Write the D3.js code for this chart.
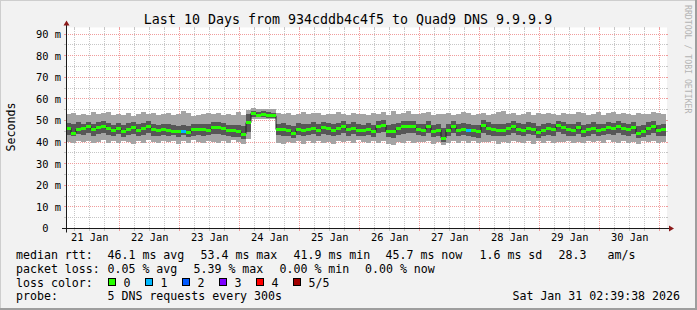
<!DOCTYPE html>
<html>
<head>
<meta charset="utf-8">
<script src="https://cdn.jsdelivr.net/npm/d3@7"></script>
<style>
  html, body { margin: 0; padding: 0; background: #fff; }
  svg { display: block; }
  text { font-family: "DejaVu Sans Mono", monospace; }
</style>
</head>
<body>
<script>
// chart texts
const title = "Last 10 Days from 934cddb4c4f5 to Quad9 DNS 9.9.9.9"
const yAxisTitle = "Seconds"
const watermark = "RRDTOOL / TOBI OETIKER"
const stamp = "Sat Jan 31 02:39:38 2026"

// time span: 10 days, one value every 2 hours
const startTime = new Date(Date.UTC(2026, 0, 21, 2, 39, 38))
const endTime = new Date(Date.UTC(2026, 0, 31, 2, 39, 38))
const stepHours = 2

const yTicks = [0, 10, 20, 30, 40, 50, 60, 70, 80, 90]
const dayLabels = ["21 Jan", "22 Jan", "23 Jan", "24 Jan", "25 Jan", "26 Jan", "27 Jan", "28 Jan", "29 Jan", "30 Jan"]

// smoke: 5 sorted DNS replies per step (ms)
const smokeMin = [
  40.1, 39.6, 40.4, 39.9, 40.7, 39.4, 40.2, 40.8, 39.7, 40.3,
  39.5, 40.6, 40.0, 39.3, 40.5, 39.8, 40.9, 40.1, 39.6, 40.4,
  39.9, 40.7, 39.2, 40.3, 39.7, 40.8, 40.2, 39.5, 40.6, 40.0,
  39.8, 40.4, 39.4, 40.9, 39.9, 38.9, 41.5, 50.6, 50.9, 50.7,
  50.8, 50.5, 39.6, 38.9, 40.2, 39.4, 40.7, 39.1, 40.3, 39.8,
  40.5, 39.7, 40.1, 39.3, 40.6, 39.9, 40.4, 39.5, 40.8, 40.0,
  39.6, 40.3, 39.8, 40.7, 39.2, 38.8, 40.1, 39.7, 40.5, 39.4,
  40.2, 39.9, 40.6, 39.3, 40.0, 38.7, 39.5, 40.4, 39.8, 40.3,
  39.7, 40.5, 39.4, 40.1, 39.9, 40.6, 39.3, 40.2, 39.8, 40.4,
  40.0, 39.6, 40.5, 39.2, 40.3, 39.8, 40.7, 39.5, 40.1, 39.9,
  40.4, 39.7, 40.2, 39.4, 40.6, 39.9, 40.3, 39.6, 40.8, 40.0,
  39.5, 40.4, 39.8, 40.2, 39.3, 40.6, 39.9, 40.5, 39.7, 40.2
]
const smokeLow = [
  43.4, 42.6, 43.8, 43.1, 44.0, 42.9, 43.6, 44.2, 43.3, 42.8,
  43.7, 42.5, 43.5, 43.9, 42.7, 43.4, 44.1, 43.0, 42.6, 43.2,
  42.9, 43.3, 42.4, 43.1, 42.2, 43.0, 43.4, 42.8, 43.2, 43.6,
  43.9, 43.1, 42.7, 42.5, 42.3, 41.5, 44.5, 51.4, 51.6, 51.5,
  51.3, 51.2, 43.2, 42.8, 42.9, 41.9, 43.2, 42.7, 43.3, 43.8,
  42.9, 43.6, 43.4, 42.7, 43.5, 44.2, 43.0, 43.7, 42.9, 42.6,
  43.1, 42.4, 44.0, 44.6, 42.3, 41.8, 43.5, 43.9, 44.2, 44.0,
  43.2, 42.8, 44.1, 42.3, 42.9, 40.2, 42.6, 44.0, 42.8, 43.1,
  42.9, 42.5, 42.1, 44.4, 43.5, 43.0, 42.7, 42.9, 43.3, 44.0,
  43.2, 42.6, 43.6, 43.1, 41.8, 42.7, 43.4, 42.9, 44.5, 43.8,
  43.0, 42.6, 43.9, 42.4, 42.9, 43.6, 42.7, 43.1, 43.8, 43.3,
  44.1, 43.4, 43.0, 43.7, 41.7, 42.3, 43.5, 44.2, 42.6, 42.9
]
const median = [
  46.4, 44.2, 46.0, 46.4, 47.2, 45.8, 46.9, 47.4, 46.2, 45.4,
  46.5, 45.1, 46.0, 46.7, 45.6, 46.3, 47.0, 45.9, 45.3, 45.8,
  45.2, 45.0, 44.9, 45.1, 44.3, 45.7, 45.7, 45.7, 45.6, 46.6,
  46.8, 46.3, 45.5, 45.2, 44.9, 43.7, 49.0, 53.4, 52.5, 52.9,
  52.4, 52.2, 45.8, 45.9, 45.4, 44.2, 45.9, 45.6, 45.8, 46.4,
  45.5, 46.6, 46.1, 45.4, 46.3, 47.2, 45.7, 46.5, 45.6, 45.4,
  45.9, 44.9, 47.1, 47.9, 45.0, 44.8, 46.3, 47.0, 47.3, 47.0,
  45.9, 45.6, 47.1, 44.9, 45.6, 41.9, 45.5, 47.2, 45.5, 45.9,
  45.6, 45.2, 44.8, 47.8, 46.4, 45.9, 45.5, 45.6, 46.1, 47.0,
  46.0, 45.4, 46.5, 46.0, 44.3, 45.5, 46.2, 45.8, 47.6, 46.8,
  45.9, 45.5, 46.8, 45.1, 45.7, 46.5, 45.6, 45.9, 46.6, 46.2,
  47.1, 46.3, 45.9, 46.6, 44.2, 45.0, 46.4, 47.2, 45.4, 45.7
]
const smokeHigh = [
  48.9, 48.2, 49.1, 48.6, 49.5, 48.4, 49.3, 49.8, 48.7, 48.1,
  49.0, 47.9, 48.8, 49.4, 48.3, 48.9, 49.6, 48.5, 48.0, 48.6,
  48.2, 47.8, 47.6, 48.0, 47.3, 48.4, 48.3, 48.5, 48.6, 49.2,
  49.4, 48.9, 48.1, 47.8, 47.9, 47.5, 53.0, 54.3, 54.0, 54.4,
  53.9, 53.7, 48.6, 48.7, 48.1, 47.6, 48.8, 48.3, 48.6, 49.1,
  48.4, 49.3, 48.8, 48.2, 49.0, 49.8, 48.5, 49.2, 48.3, 48.1,
  48.7, 47.9, 49.6, 50.2, 48.0, 48.6, 49.0, 49.7, 49.9, 49.6,
  48.6, 48.3, 49.8, 47.9, 48.4, 46.5, 48.2, 49.9, 48.3, 48.7,
  48.4, 48.0, 47.8, 50.1, 49.1, 48.6, 48.3, 48.5, 48.9, 49.6,
  48.8, 48.2, 49.2, 48.7, 47.6, 48.3, 48.9, 48.5, 50.0, 49.4,
  48.6, 48.2, 49.5, 47.9, 48.4, 49.2, 48.3, 48.6, 49.3, 48.9,
  49.7, 49.0, 48.6, 49.3, 47.5, 47.8, 49.1, 49.8, 48.1, 48.4
]
const smokeMax = [
  52.8, 53.5, 52.4, 53.1, 52.6, 53.8, 52.9, 53.3, 54.1, 52.7,
  53.2, 52.5, 53.6, 52.3, 53.0, 53.9, 52.8, 53.4, 52.6, 53.1,
  53.7, 52.4, 53.0, 54.2, 53.3, 52.1, 52.6, 52.9, 53.5, 52.8,
  53.4, 52.7, 53.1, 52.5, 53.8, 52.4, 55.0, 55.6, 55.3, 55.5,
  55.2, 55.4, 53.6, 52.9, 53.4, 52.6, 53.2, 53.9, 52.8, 53.3,
  53.7, 52.5, 53.1, 52.8, 54.0, 53.2, 52.6, 53.5, 52.9, 53.2,
  52.7, 53.4, 52.9, 53.8, 52.5, 54.6, 53.1, 53.6, 54.2, 53.0,
  52.8, 53.3, 54.0, 52.6, 53.1, 52.9, 53.7, 52.5, 53.2, 54.0,
  53.5, 52.7, 52.9, 53.6, 52.4, 53.1, 53.8, 54.3, 52.9, 53.5,
  52.6, 53.2, 53.9, 52.7, 53.3, 52.8, 53.6, 53.0, 52.5, 53.7,
  53.1, 52.8, 54.1, 53.3, 52.6, 53.0, 53.8, 52.7, 53.4, 54.0,
  52.9, 53.5, 53.2, 52.6, 53.7, 53.1, 52.8, 53.9, 53.4, 53.0
]
// steps where replies were lost: [step index, lost count]
const lossSteps = [[23, 1], [80, 1]]

const lossLabels = ["0", "1", "2", "3", "4", "5/5"]
const lossColors = ["#26ff00", "#00b8ff", "#0059ff", "#7e00ff", "#ff0000", "#a10000"]

const legendRows = [
  ["median rtt:", "46.1 ms avg", "53.4 ms max", "41.9 ms min", "45.7 ms now", "1.6 ms sd", "28.3", "am/s"],
  ["packet loss:", "0.05 % avg", "5.39 % max", "0.00 % min", "0.00 % now"],
  ["loss color:"],
  ["probe:", "5 DNS requests every 300s"]
]
const legendCols = [
  [16, 107.5, 200.5, 293.5, 385.5, 479.5, 558.5, 607.5],
  [16, 107.5, 193.5, 279.5, 365],
  [16],
  [16, 107.5]
]

const W = 697, H = 310
const x0 = 66, x1 = 666, yBottom = 228.5, yTop = 28.5

const svg = d3.select("body").append("svg")
  .attr("width", W)
  .attr("height", H)

// background and 3d border
svg.append("rect").attr("width", W).attr("height", H).attr("fill", "#f2f2f2")
svg.append("path").attr("d", `M0,${H} V0 H${W}`).attr("fill", "none")
  .attr("stroke", "#cecece").attr("stroke-width", 2)
svg.append("path").attr("d", `M0,${H - 1} H${W - 1} V0`).attr("fill", "none")
  .attr("stroke", "#9e9e9e").attr("stroke-width", 2)

const x = d3.scaleUtc().domain([startTime, endTime]).range([x0, x1])
const y = d3.scaleLinear().domain([0, 92.6]).range([yBottom, yTop])

svg.append("rect")
  .attr("x", x0).attr("y", yTop - 1)
  .attr("width", x1 - x0 + 1).attr("height", yBottom - yTop + 1)
  .attr("fill", "#fff")

const crisp = v => Math.round(v - 0.5) + 0.5

// grid
const grid = svg.append("g").attr("shape-rendering", "crispEdges")
const minorY = d3.range(5, 92, 10)
const majorY = yTicks.filter(v => v > 0)
const minorX = d3.utcHour.every(6).range(startTime, endTime).filter(d => d.getUTCHours() !== 0)
const majorX = d3.utcDay.range(startTime, endTime)

function hLines(vals, color) {
  vals.forEach(v => {
    const yy = crisp(y(v))
    grid.append("line").attr("x1", x0).attr("x2", x1).attr("y1", yy).attr("y2", yy)
      .attr("stroke", color).attr("stroke-dasharray", "1,1")
    grid.append("line").attr("x1", x0 - 2).attr("x2", x0).attr("y1", yy).attr("y2", yy).attr("stroke", color)
    grid.append("line").attr("x1", x1).attr("x2", x1 + 2).attr("y1", yy).attr("y2", yy).attr("stroke", color)
  })
}
function vLines(vals, color) {
  vals.forEach(d => {
    const xx = crisp(x(d))
    grid.append("line").attr("x1", xx).attr("x2", xx).attr("y1", yTop).attr("y2", yBottom)
      .attr("stroke", color).attr("stroke-dasharray", "1,1")
    grid.append("line").attr("x1", xx).attr("x2", xx).attr("y1", yBottom).attr("y2", yBottom + 2).attr("stroke", color)
    grid.append("line").attr("x1", xx).attr("x2", xx).attr("y1", yTop - 2).attr("y2", yTop).attr("stroke", color)
  })
}
hLines(minorY, "#c6c6c6")
vLines(minorX, "#c6c6c6")
hLines(majorY, "#f09c9c")
vLines(majorX, "#f09c9c")

// data per step
const steps = median.map((m, i) => ({
  t: d3.utcHour.offset(startTime, i * stepHours),
  t2: d3.utcHour.offset(startTime, (i + 1) * stepHours),
  lo: smokeMin[i], q1: smokeLow[i], med: m, q3: smokeHigh[i], hi: smokeMax[i], loss: 0
}))
lossSteps.forEach(([i, l]) => { steps[i].loss = l })
const stepPts = steps.concat([{ ...steps[steps.length - 1], t: endTime }])

const plot = svg.append("g")
const band = (a, b) => d3.area().curve(d3.curveStepAfter)
  .x(d => x(d.t)).y0(d => y(d[a])).y1(d => y(d[b]))

plot.append("path").datum(stepPts).attr("d", band("lo", "hi")(stepPts))
  .attr("fill", "#a4a4a4").attr("shape-rendering", "crispEdges")
plot.append("path").datum(stepPts).attr("d", band("q1", "q3")(stepPts))
  .attr("fill", "#575757").attr("shape-rendering", "crispEdges")

plot.append("path")
  .attr("d", d3.line().curve(d3.curveStepAfter).x(d => x(d.t)).y(d => y(d.med))(stepPts))
  .attr("fill", "none").attr("stroke", "#202020").attr("stroke-width", 1)

plot.selectAll("rect.med")
  .data(steps)
  .join("rect")
  .attr("class", "med")
  .attr("x", d => x(d.t))
  .attr("width", d => x(d.t2) - x(d.t))
  .attr("y", d => y(d.med) - 1.5)
  .attr("height", 3)
  .attr("fill", d => lossColors[d.loss])
  .attr("shape-rendering", "crispEdges")

// axes lines and arrows
const axisCol = "#1a1a1a", arrowCol = "#8b1a1a"
svg.append("line").attr("x1", x0 - 4).attr("x2", x1 + 4).attr("y1", yBottom).attr("y2", yBottom)
  .attr("stroke", axisCol)
svg.append("line").attr("x1", x0 + 0.5).attr("x2", x0 + 0.5).attr("y1", yBottom + 4).attr("y2", yTop - 4)
  .attr("stroke", axisCol)
svg.append("path").attr("d", `M${x1 + 3},${yBottom - 3} L${x1 + 3},${yBottom + 3} L${x1 + 8},${yBottom} Z`)
  .attr("fill", arrowCol)
svg.append("path").attr("d", `M${x0 - 2.5},${yTop - 3} L${x0 + 3.5},${yTop - 3} L${x0 + 0.5},${yTop - 8} Z`)
  .attr("fill", arrowCol)

// y tick labels
const yAxis = svg.append("g")
  .attr("transform", `translate(${x0},0)`)
  .call(d3.axisLeft(y).tickValues(yTicks).tickSize(0).tickPadding(5)
    .tickFormat(v => v === 0 ? "0" : `${v} m`))
yAxis.select(".domain").remove()
yAxis.selectAll("text")
  .attr("font-family", "DejaVu Sans Mono")
  .attr("font-size", "10.4px")
  .attr("fill", "#000")
  .attr("dx", v => v === 0 ? -12.5 : 0)

// x tick labels at noon of each day
const noons = majorX.map(d => d3.utcHour.offset(d, -12)).concat([])
const dayNoons = dayLabels.map((_, i) => d3.utcHour.offset(d3.utcDay.floor(startTime), i * 24 + 12))
const xAxis = svg.append("g")
  .attr("transform", `translate(0,${yBottom})`)
  .call(d3.axisBottom(x).tickValues(dayNoons).tickSize(0).tickPadding(5.6)
    .tickFormat((d, i) => dayLabels[i]))
xAxis.select(".domain").remove()
xAxis.selectAll("text")
  .attr("font-family", "DejaVu Sans Mono")
  .attr("font-size", "10.4px")
  .attr("fill", "#000")

// title, axis title, watermark
svg.append("text").attr("x", 348).attr("y", 24)
  .attr("text-anchor", "middle").attr("font-size", "13.3px").attr("fill", "#000")
  .text(title)
svg.append("text")
  .attr("transform", "translate(15,127) rotate(-90)")
  .attr("text-anchor", "middle").attr("font-size", "11.6px").attr("fill", "#000")
  .text(yAxisTitle)
svg.append("text")
  .attr("transform", "translate(685,5) rotate(90)")
  .attr("font-size", "8.2px").attr("fill", "#b4b4b4")
  .text(watermark)

// legend
const legendBase = [258.5, 272.5, 286.5, 300]
legendRows.forEach((row, r) => {
  svg.append("g").selectAll("text")
    .data(row)
    .join("text")
    .attr("x", (d, i) => legendCols[r][i])
    .attr("y", legendBase[r])
    .attr("font-size", "11.6px")
    .attr("fill", "#000")
    .text(d => d)
})
const lossKey = svg.append("g").selectAll("g")
  .data(lossLabels)
  .join("g")
  .attr("transform", (d, i) => `translate(${108.5 + i * 37},278.5)`)
lossKey.append("rect").attr("width", 7).attr("height", 7)
  .attr("fill", (d, i) => lossColors[i]).attr("stroke", "#000")
lossKey.append("text").attr("x", 15).attr("y", 8)
  .attr("font-size", "11.6px").attr("fill", "#000")
  .text(d => d)

svg.append("text").attr("x", 680).attr("y", legendBase[3])
  .attr("text-anchor", "end").attr("font-size", "11.6px").attr("fill", "#000")
  .text(stamp)
</script>
</body>
</html>
